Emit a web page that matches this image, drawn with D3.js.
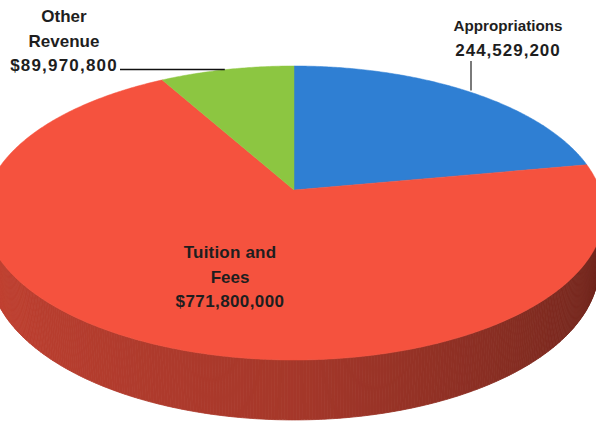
<!DOCTYPE html>
<html>
<head>
<meta charset="utf-8">
<script src="https://cdn.jsdelivr.net/npm/d3@7"></script>
<style>
  html, body { margin: 0; padding: 0; background: #fff; }
  svg { display: block; }
  .lbl { font-family: "Liberation Sans", Arial, sans-serif; font-weight: bold; font-size: 17px; fill: #1e1e1e; }
</style>
</head>
<body>
<script>
// ── Data ──────────────────────────────────────────────────────────────────
const categories = ['Appropriations', 'Tuition and Fees', 'Other Revenue'];
const values     = [244529200, 771800000, 89970800];
const colors     = ['#2f7fd3', '#f5523e', '#8cc641'];
const labelLines = [
  ['Appropriations', '244,529,200'],
  ['Tuition and', 'Fees', '$771,800,000'],
  ['Other', 'Revenue', '$89,970,800'],
];

const W = 596, H = 430;
const svg = d3.select('body').append('svg').attr('width', W).attr('height', H);

// ── 3D projection (tilted disc with perspective) ─────────────────────────
const CX = 294, CY = 190;           // pie vertex on screen
const FOCAL = 1729, DIST = 5.647;   // radius = 1
const ELEV = 27.93 * Math.PI / 180;
const THICK = 0.201;

function project(theta, z) {
  const X = Math.sin(theta), Y = Math.cos(theta);
  const depth = DIST + Y * Math.cos(ELEV) - z * Math.sin(ELEV);
  const up = Y * Math.sin(ELEV) + z * Math.cos(ELEV);
  return [CX + FOCAL * X / depth, CY - FOCAL * up / depth];
}

const data = categories.map((c, i) => ({ name: c, value: values[i], color: colors[i], lines: labelLines[i] }));
const arcs = d3.pie().sort(null).value(d => d.value)(data);

const line = d3.line();
const STEP = Math.PI / 360;

// ── Side wall (front-facing part only) ──────────────────────────────────
const limit = Math.acos(-1 / (DIST * Math.cos(ELEV)));   // silhouette angle
const shade = d3.scaleLinear()
  .domain([2 * Math.PI - limit, Math.PI, limit])
  .range([0.6, 1.1, 2.3]);

const wallG = svg.append('g');
d3.range(limit, 2 * Math.PI - limit, STEP).forEach(t0 => {
  const t1 = Math.min(t0 + STEP, 2 * Math.PI - limit);
  const arc = arcs.find(a => t0 >= a.startAngle && t0 < a.endAngle) || arcs[1];
  const c = d3.color(arc.data.color).darker(shade((t0 + t1) / 2)).formatHex();
  wallG.append('path')
    .attr('d', line([project(t0, 0), project(t1, 0), project(t1, -THICK), project(t0, -THICK)]) + 'Z')
    .attr('fill', c).attr('stroke', c).attr('stroke-width', 0.8);
});

// ── Top face ─────────────────────────────────────────────────────────────
const topG = svg.append('g');
arcs.forEach(a => {
  const pts = [[CX, CY]];
  d3.range(a.startAngle, a.endAngle, STEP).forEach(t => pts.push(project(t, 0)));
  pts.push(project(a.endAngle, 0));
  topG.append('path')
    .attr('d', line(pts) + 'Z')
    .attr('fill', a.data.color)
    .attr('stroke', a.data.color).attr('stroke-width', 0.5);
});

// ── Labels ───────────────────────────────────────────────────────────────
const mid = a => project((a.startAngle + a.endAngle) / 2, 0);
const LH = 24.5;

function addLabel(lines, x, y0, sizes, spacing) {
  lines.forEach((t, i) => {
    svg.append('text').attr('class', 'lbl').attr('text-anchor', 'middle')
      .attr('x', x).attr('y', y0 + i * LH)
      .style('font-size', sizes[i] + 'px')
      .style('letter-spacing', spacing[i] + 'px')
      .text(t);
  });
}

// Appropriations: above, vertical leader
const mA = mid(arcs[0]);
svg.append('line')
  .attr('x1', 471).attr('x2', 471)
  .attr('y1', 61).attr('y2', mA[1] - 1)
  .attr('stroke', '#7a7a7a').attr('stroke-width', 2);
addLabel(arcs[0].data.lines, 508, 31, [15.2, 17], [0, 1]);

// Tuition and Fees: inside slice
addLabel(arcs[1].data.lines, 230, 258, [17, 17, 17], [0.2, 0, 0.4]);

// Other Revenue: upper left, horizontal leader
const mO = mid(arcs[2]);
svg.append('line')
  .attr('x1', 120).attr('x2', mO[0] - 2)
  .attr('y1', mO[1]).attr('y2', mO[1])
  .attr('stroke', '#111').attr('stroke-width', 1.6);
addLabel(arcs[2].data.lines, 64, 22, [17, 17, 17], [0, 0, 1.2]);
</script>
</body>
</html>
